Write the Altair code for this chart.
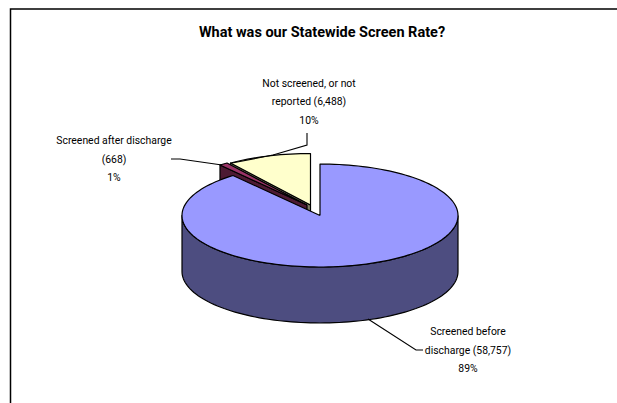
import math
import altair as alt
import pandas as pd

# Screening counts behind the pie
labels = ["Screened before discharge", "Screened after discharge", "Not screened, or not reported"]
counts = [58757, 668, 6488]
top_colors = ["#9999FF", "#993366", "#FFFFCC"]
wall_colors = ["#4D4D80", "#4D1A33", "#808066"]

# Tilted-pie geometry, in canvas units
CX, CY, RX, RY, DEPTH = 320, 215.5, 138, 51.5, 56
offsets = [(0, 0), (-13, -10.5), (-9.5, -10.5)]

# Multi-line slice captions
caption_lines = [
    ["Screened before", "discharge (58,757)", "89%"],
    ["Screened after discharge", "(668)", "1%"],
    ["Not screened, or not", "reported (6,488)", "10%"],
]
caption_x = [468, 114, 309]
caption_y = [332, 141, 83.5]
line_step = 18.7

# Leader lines from the captions to the slices
leaders = [
    ([368, 416, 423], [319, 350, 350]),
    ([171, 180, 222], [159, 159, 165]),
    ([307, 307, 273, 232], [133, 145, 155, 163]),
]

title_text = "What was our Statewide Screen Rate?"
W, H = 617, 403


def rim(angle, ox, oy, drop=0):
    a = math.radians(angle)
    return (CX + ox + RX * math.sin(a), CY + oy - RY * math.cos(a) + drop)


def arc(start, end, ox, oy, drop=0, steps=None):
    steps = steps or max(2, int(abs(end - start) / 2))
    return [rim(start + (end - start) * i / steps, ox, oy, drop) for i in range(steps + 1)]


total = sum(counts)
shapes = []  # (points, colour) in back-to-front order
spans = []
start = 0.0
for c in counts:
    spans.append((start, start + 360 * c / total))
    start += 360 * c / total

for i in (2, 1):
    s, e = spans[i]
    ox, oy = offsets[i]
    apex = (CX + ox, CY + oy)
    edge = rim(s, ox, oy)
    # cut face along the slice's leading edge
    wall = [apex, edge, (edge[0], edge[1] + DEPTH), (apex[0], apex[1] + DEPTH), apex]
    shapes.append((wall, wall_colors[i]))
    top = [apex] + arc(s, e, ox, oy) + [apex]
    shapes.append((top, top_colors[i]))

s, e = spans[0]
side = arc(90, 270, 0, 0)
side = side + arc(270, 90, 0, 0, DEPTH)
shapes.append((side + [side[0]], wall_colors[0]))
apex = (CX, CY)
shapes.append(([apex] + arc(s, e, 0, 0) + [apex], top_colors[0]))

xs = alt.Scale(domain=[0, W], range=[0, W])
ys = alt.Scale(domain=[0, H], range=[0, H])
X = alt.X("x:Q", scale=xs, axis=None)
Y = alt.Y("y:Q", scale=ys, axis=None)

layers = []
for pts, color in shapes:
    df = pd.DataFrame({"x": [p[0] for p in pts], "y": [p[1] for p in pts], "i": range(len(pts))})
    layers.append(
        alt.Chart(df).mark_line(fill=color, stroke="#000000", strokeWidth=1.2, strokeJoin="round", clip=False)
        .encode(x=X, y=Y, order="i:Q")
    )

# Chart-area frame, open to the right and bottom
frame = pd.DataFrame({"x": [W, 10.5, 10.5], "y": [9, 9, H], "i": [0, 1, 2]})
layers.append(alt.Chart(frame).mark_line(stroke="#000000", strokeWidth=1.5).encode(x=X, y=Y, order="i:Q"))

for lx, ly in leaders:
    df = pd.DataFrame({"x": lx, "y": ly, "i": range(len(lx))})
    layers.append(alt.Chart(df).mark_line(stroke="#000000", strokeWidth=1.1).encode(x=X, y=Y, order="i:Q"))

rows = []
for lines, cx, cy in zip(caption_lines, caption_x, caption_y):
    for j, line in enumerate(lines):
        rows.append({"x": cx, "y": cy + j * line_step, "t": line})
layers.append(
    alt.Chart(pd.DataFrame(rows))
    .mark_text(font="Roboto", fontSize=10.4, color="#000000", align="center", baseline="middle")
    .encode(x=X, y=Y, text="t:N")
)
layers.append(
    alt.Chart(pd.DataFrame([{"x": 322, "y": 33, "t": title_text}]))
    .mark_text(font="Roboto", fontSize=14.5, fontWeight="bold", color="#000000", align="center", baseline="middle")
    .encode(x=X, y=Y, text="t:N")
)

chart = (
    alt.layer(*layers)
    .properties(width=W, height=H, padding=0, background="white", autosize=alt.AutoSizeParams(type="none"))
    .configure_view(stroke=None)
)
chart.save("out.html", embed_options={"renderer": "svg", "actions": False})
